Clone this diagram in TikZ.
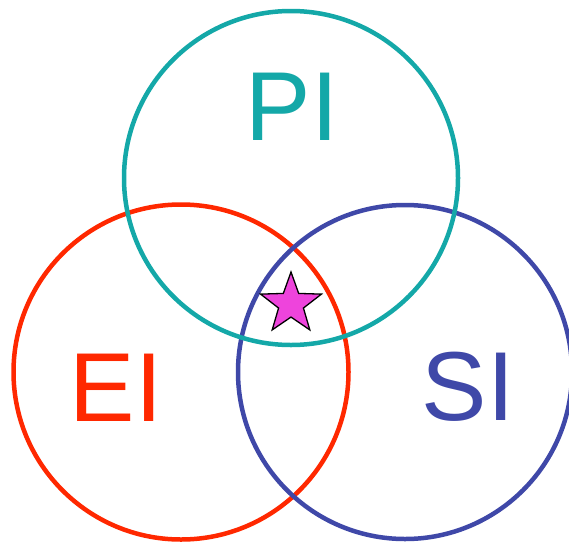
\documentclass[tikz,border=0pt]{standalone}
\usepackage{fontspec}
\setmainfont{Liberation Sans}
\usetikzlibrary{shapes.geometric}
\definecolor{piteal}{RGB}{20,168,168}
\definecolor{eired}{RGB}{255,40,0}
\definecolor{siblue}{RGB}{63,72,168}
\definecolor{starpink}{RGB}{238,68,220}

\begin{document}
\begin{tikzpicture}[x=1pt,y=-1pt,
    ring/.style={line width=4.5pt},
    lbl/.style={font=\fontsize{98}{98}\selectfont, inner sep=0pt}]
        \useasboundingbox (0,0) rectangle (569,546);

        \coordinate (P) at (291,178); % PI centre
        \coordinate (E) at (181,372); % EI centre
        \coordinate (S) at (405,372); % SI centre

        \draw[ring, eired] (E) circle (167.5pt);
        \draw[ring, siblue] (S) circle (167pt);
        \draw[ring, piteal] (P) circle (167pt);

        \node[lbl, text=piteal] (pi) at (292,107) {PI};
        \node[lbl, text=eired] (ei) at (116,388) {EI};
        \node[lbl, text=siblue] (si) at (468,387) {SI};

        \node[star, star points=5, star point ratio=2.45, minimum size=64pt, inner sep=0pt,
              draw=black, line width=1.3pt, fill=starpink] (mark) at (291,304) {};
    \end{tikzpicture}
\end{document}
